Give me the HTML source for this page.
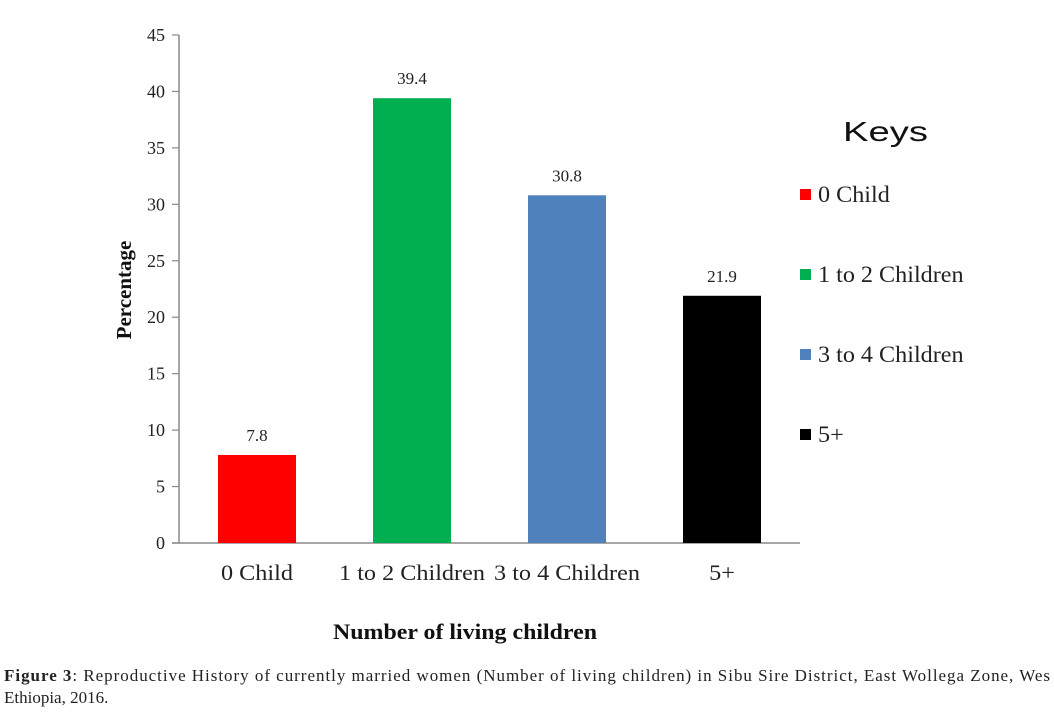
<!DOCTYPE html>
<html><head><meta charset="utf-8"><style>
body{margin:0;background:#fff;width:1054px;height:717px;overflow:hidden;font-family:"Liberation Serif",serif}
svg text{font-family:"Liberation Serif",serif}
</style></head><body>
<svg id="chart" width="1054" height="717" xmlns="http://www.w3.org/2000/svg">
<g id="plot"></g>
<text x="333" y="639" textLength="264" lengthAdjust="spacingAndGlyphs" font-size="22" font-weight="bold" fill="#111">Number of living children</text>
<text transform="translate(131,290) rotate(-90)" text-anchor="middle" font-size="21" font-weight="bold" fill="#111">Percentage</text>
<text x="843" y="141" textLength="85" lengthAdjust="spacingAndGlyphs" font-size="28" fill="#111" style="font-family:'Liberation Sans',sans-serif">Keys</text>
<g id="legend"></g>
<text x="4" y="681" textLength="1046" lengthAdjust="spacing" font-size="17" fill="#222"><tspan font-weight="bold">Figure 3</tspan>: Reproductive History of currently married women (Number of living children) in Sibu Sire District, East Wollega Zone, Wes</text>
<text x="4" y="703" font-size="17" fill="#222">Ethiopia, 2016.</text>
</svg>
<script>
const categories=["0 Child","1 to 2 Children","3 to 4 Children","5+"];
const values=[7.8,39.4,30.8,21.9];
const valueLabels=["7.8","39.4","30.8","21.9"];
const colors=["#ff0000","#00b050","#4f81bd","#000000"];
const yTicks=[0,5,10,15,20,25,30,35,40,45];
const NS="http://www.w3.org/2000/svg";
const y0=543,y45=35,x0=179,band=155,bw=78;
const yScale=v=>y0-(v/45)*(y0-y45);
const xCenter=i=>x0+78+i*band;
const plot=document.getElementById('plot');
function mk(t,a,p){const e=document.createElementNS(NS,t);for(const k in a)e.setAttribute(k,a[k]);(p||plot).appendChild(e);return e;}
function stretch(el,f){const w=el.getComputedTextLength();el.setAttribute('textLength',w*f);el.setAttribute('lengthAdjust','spacingAndGlyphs');}
const ax=mk('line',{x1:x0,y1:y45,x2:x0,y2:y0,stroke:'#888','stroke-width':1.5});


const bx=mk('line',{x1:x0-7,y1:y0,x2:800,y2:y0,stroke:'#888','stroke-width':1.5});


yTicks.forEach(v=>{
 const y=yScale(v);
 const t=mk('line',{x1:x0-7,y1:y,x2:x0,y2:y,stroke:'#888','stroke-width':1.2});
 
 
 const l=mk('text',{x:x0-14,y:y+6,'text-anchor':'end','font-size':18,fill:'#222'});
 l.textContent=v;
 
 
});
categories.forEach((c,i)=>{
 const cx=xCenter(i),y=yScale(values[i]);
 const r=mk('rect',{x:cx-bw/2,y:y,width:bw,height:y0-y,fill:colors[i]});
 
 
 const vl=mk('text',{x:cx,y:y-14,'text-anchor':'middle','font-size':17,fill:'#222'});
 vl.textContent=valueLabels[i];
 
 
 const cl=mk('text',{x:cx,y:580,'text-anchor':'middle','font-size':22,fill:'#222'});
 cl.textContent=c;
 
 
 stretch(cl,1.1);
});
const leg=document.getElementById('legend');
categories.forEach((c,i)=>{
 const y=196+i*80;
 const s=mk('rect',{x:800,y:y-7,width:11,height:11,fill:colors[i]},leg);
 
 
 const t=mk('text',{x:818,y:y+6,'font-size':23,fill:'#222'},leg);
 t.textContent=c;
 
 
 stretch(t,1.05);
});
</script>
</body></html>
